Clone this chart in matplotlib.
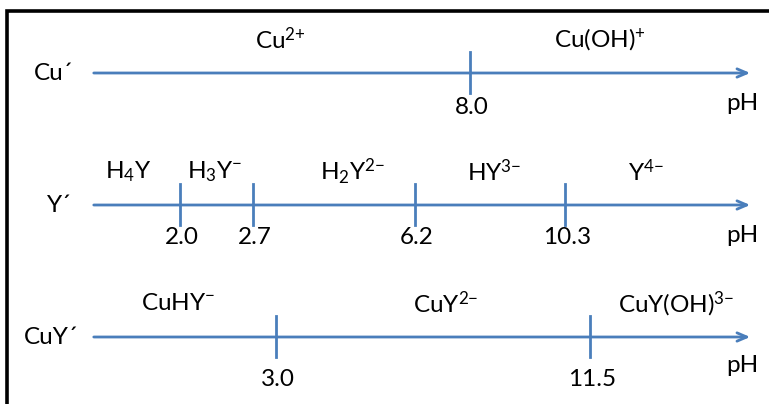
import matplotlib
matplotlib.use("Agg")
import matplotlib.pyplot as plt

plt.rcParams['font.family'] = ['Lato', 'DejaVu Sans']
plt.rcParams['mathtext.fontset'] = 'custom'
plt.rcParams['mathtext.rm'] = 'Lato'
plt.rcParams['mathtext.it'] = 'Lato'
plt.rcParams['mathtext.default'] = 'regular'

# predominance diagrams: Cu', Y' and CuY' versus pH
row_names = ["Cu´", "Y´", "CuY´"]

cu_pka = ["8.0"]
cu_species = [r"Cu$^{2{+}}$", r"Cu(OH)$^{+}$"]

y_pka = ["2.0", "2.7", "6.2", "10.3"]
y_species = [r"H$_4$Y", r"H$_3$Y$^{-}$", r"H$_2$Y$^{2{-}}$", r"HY$^{3{-}}$", r"Y$^{4{-}}$"]

cuy_pka = ["3.0", "11.5"]
cuy_species = [r"CuHY$^{-}$", r"CuY$^{2{-}}$", r"CuY(OH)$^{3{-}}$"]

# schematic layout (pixel units of the 769x404 canvas)
row_y = [73, 205, 337]
tick_x = [[470], [180, 253, 415, 565], [276, 590]]
species_x = [[280, 600], [128, 215, 352, 494, 646], [178, 446, 676]]
name_x = [34, 47, 24]
pka_dy = [34, 33, 43]
ph_dy = [30, 30, 28]
line_x0, line_x1 = 91, 753
blue = '#4a7ebb'

fig = plt.figure(figsize=(7.69, 4.04), dpi=100)
ax = fig.add_axes([0, 0, 1, 1])
ax.set_xlim(0, 769)
ax.set_ylim(404, 0)
ax.axis('off')

# frame, cut off at the right and bottom
ax.plot([7, 7, 769], [404, 11, 11], color='black', lw=2.6, solid_joinstyle='miter')

rows = [(cu_pka, cu_species), (y_pka, y_species), (cuy_pka, cuy_species)]
fs = 17.5
for i, (pka, species) in enumerate(rows):
    y = row_y[i]
    ax.annotate('', xy=(line_x1, y), xytext=(line_x0, y),
                arrowprops=dict(arrowstyle='->,head_length=0.7,head_width=0.3',
                                color=blue, lw=2))
    ax.text(name_x[i], y, row_names[i], fontsize=fs, ha='left', va='center')
    for x, lab in zip(tick_x[i], pka):
        ax.plot([x, x], [y - 21, y + 20], color=blue, lw=2)
        ax.text(x + 2, y + pka_dy[i], lab, fontsize=fs, ha='center', va='center')
    for x, lab in zip(species_x[i], species):
        ax.text(x, y - 33, lab, fontsize=fs, ha='center', va='center')
    ax.text(758, y + ph_dy[i], 'pH', fontsize=fs, ha='right', va='center')

fig.savefig('out.png', dpi=100)
